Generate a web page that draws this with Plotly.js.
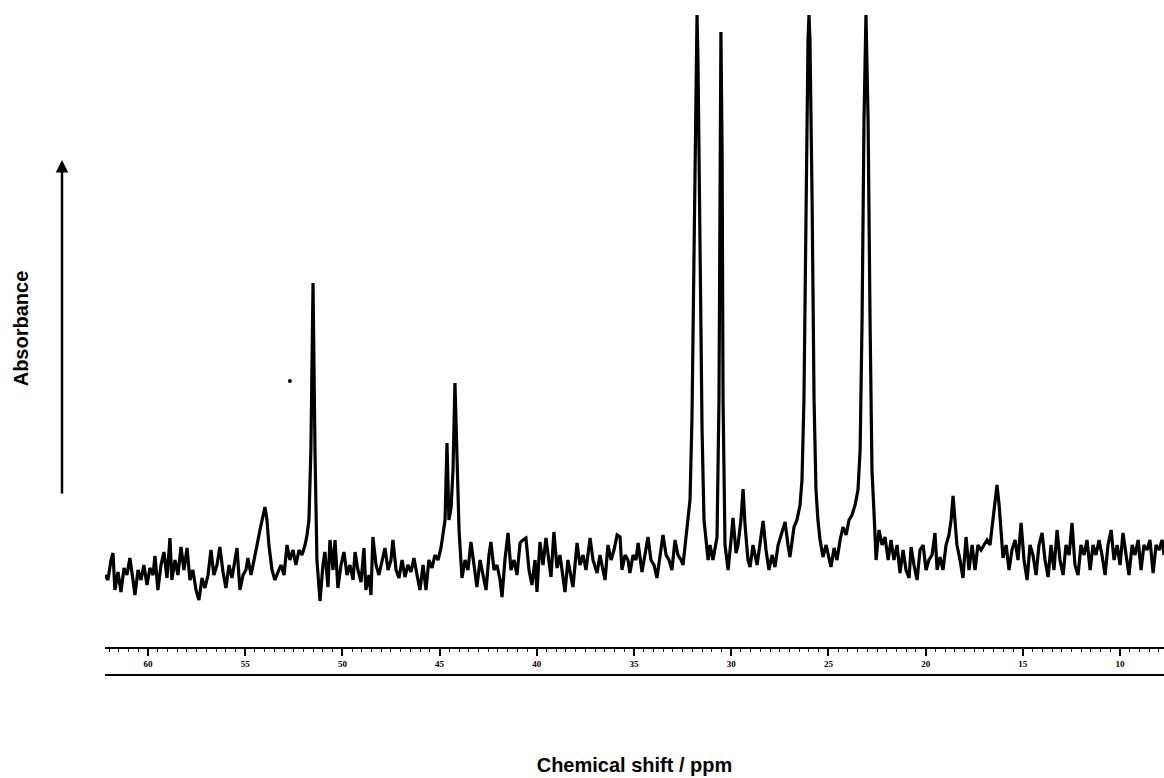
<!DOCTYPE html>
<html>
<head>
<meta charset="utf-8">
<script src="https://cdn.plot.ly/plotly-3.0.1.min.js"></script>
<style>html,body{margin:0;padding:0;background:#fff;}#chart{width:1164px;height:778px;}</style>
</head>
<body>
<div id="chart"></div>
<script>
// Chemical shift (ppm)
const shiftPpm = [
62.21,62.06,61.90,61.80,61.70,61.54,61.39,61.23,61.08,60.93,60.77,60.67,60.51,60.36,60.21,60.05,
59.90,59.74,59.64,59.49,59.33,59.18,59.02,58.87,58.77,58.61,58.46,58.30,58.15,57.99,57.84,57.69,
57.53,57.38,57.22,57.07,56.91,56.76,56.61,56.45,56.30,56.14,55.99,55.83,55.68,55.52,55.42,55.27,
55.11,54.96,54.86,54.70,54.55,54.39,54.24,54.14,53.98,53.88,53.78,53.62,53.47,53.31,53.16,53.00,
52.85,52.70,52.54,52.39,52.23,52.08,51.92,51.82,51.72,51.62,51.51,51.41,51.31,51.15,51.00,50.90,
50.74,50.64,50.48,50.38,50.23,50.07,49.92,49.76,49.61,49.45,49.35,49.20,49.04,48.89,48.79,48.63,
48.53,48.43,48.27,48.12,47.96,47.81,47.65,47.50,47.40,47.24,47.09,46.93,46.78,46.63,46.47,46.32,
46.16,46.01,45.85,45.70,45.55,45.39,45.24,45.08,44.93,44.83,44.72,44.62,44.52,44.41,44.31,44.21,
44.11,44.00,43.85,43.69,43.54,43.39,43.23,43.08,42.92,42.77,42.61,42.46,42.36,42.20,42.05,41.89,
41.79,41.64,41.48,41.33,41.17,41.02,40.86,40.71,40.56,40.40,40.25,40.09,39.99,39.84,39.68,39.53,
39.37,39.27,39.12,38.96,38.81,38.65,38.55,38.40,38.24,38.14,37.93,37.78,37.62,37.47,37.26,37.11,
36.90,36.75,36.65,36.49,36.34,36.18,36.03,35.87,35.72,35.62,35.46,35.31,35.21,35.05,34.90,34.79,
34.59,34.43,34.28,34.13,33.97,33.82,33.66,33.51,33.35,33.20,33.05,32.89,32.74,32.58,32.48,32.38,
32.22,32.12,32.02,31.91,31.81,31.76,31.71,31.61,31.50,31.40,31.30,31.19,31.09,30.94,30.83,30.73,
30.63,30.58,30.53,30.47,30.42,30.32,30.16,30.01,29.91,29.75,29.65,29.50,29.39,29.29,29.14,29.03,
28.88,28.67,28.52,28.36,28.21,28.06,27.90,27.75,27.59,27.44,27.23,27.08,26.98,26.77,26.62,26.46,
26.36,26.26,26.15,26.05,26.00,25.95,25.84,25.74,25.64,25.54,25.43,25.28,25.12,24.97,24.87,24.71,
24.56,24.40,24.25,24.09,23.94,23.79,23.63,23.48,23.37,23.27,23.17,23.07,22.96,22.86,22.76,22.65,
22.55,22.40,22.24,22.09,21.93,21.78,21.63,21.47,21.32,21.16,21.01,20.85,20.75,20.60,20.44,20.29,
20.13,19.98,19.83,19.67,19.52,19.41,19.26,19.11,18.95,18.80,18.69,18.59,18.49,18.39,18.23,18.08,
17.92,17.77,17.61,17.46,17.31,17.15,17.00,16.84,16.69,16.53,16.43,16.33,16.22,16.12,16.02,15.86,
15.71,15.56,15.40,15.25,15.09,14.94,14.78,14.63,14.48,14.32,14.17,14.01,13.86,13.70,13.55,13.40,
13.24,13.09,12.93,12.78,12.62,12.47,12.32,12.16,12.01,11.85,11.70,11.54,11.39,11.24,11.08,10.93,
10.77,10.62,10.46,10.31,10.15,10.00,9.85,9.69,9.54,9.38,9.23,9.07,8.92,8.77,8.61,8.46,
8.30,8.15,7.99,7.84,7.74
];
// Absorbance (arbitrary units)
const absorbance = [
-5,-10,10,17,-20,-2,-22,2,-5,12,-10,-25,0,-10,5,-15,
2,-5,14,-20,5,18,-8,32,-10,10,-5,23,0,22,-10,0,
-20,-30,-8,-18,-5,20,-5,5,23,-2,-18,5,-8,10,22,-20,
-5,0,12,-5,8,25,40,48,63,50,25,0,-10,-2,5,-5,
25,10,20,5,20,15,25,35,50,120,287,120,10,-31,5,18,
-17,30,0,30,-18,5,18,-5,5,-10,18,0,-12,22,-20,-5,
-25,33,5,-5,10,22,0,10,30,0,-8,10,-7,5,-2,12,
-5,-20,5,-20,10,2,15,10,22,35,50,127,50,62,100,187,
100,40,-8,10,0,28,5,-17,10,-5,-20,15,28,0,5,-10,
-27,10,37,0,10,-5,27,30,32,0,-15,10,-22,28,5,32,
5,-7,38,2,15,-5,-22,10,-5,-17,27,5,15,0,32,10,
-3,15,5,-10,25,10,20,35,33,0,15,10,-3,15,10,27,
-2,15,33,10,5,-8,15,35,15,10,0,30,15,10,5,23,
47,70,150,320,510,555,510,320,140,50,30,10,25,10,22,33,
170,420,538,420,170,25,0,30,52,17,25,50,81,45,10,3,
25,5,25,49,20,0,15,3,25,35,48,25,13,43,50,65,
90,170,370,530,555,530,370,170,80,50,30,13,25,10,3,22,
10,30,43,35,50,55,65,80,120,250,450,555,450,250,100,55,
10,40,25,33,10,30,10,25,-3,20,0,-8,23,5,-10,20,
25,0,10,15,37,0,13,0,25,35,50,74,50,25,10,-8,
33,0,25,0,25,20,25,30,25,50,70,85,65,40,12,25,
0,20,30,10,47,10,-10,25,15,-5,25,37,10,-7,25,0,
40,10,-5,25,15,47,5,-5,25,15,30,0,25,15,30,15,
-5,25,40,10,25,5,37,15,-5,25,15,30,0,25,20,30,
-3,25,20,30,15
];
// Isolated dot visible in the scan
const dotPpm = [52.70];
const dotAbs = [189];
const tickVals = [60, 55, 50, 45, 40, 35, 30, 25, 20, 15, 10];
const tickText = ['60', '55', '50', '45', '40', '35', '30', '25', '20', '15', '10'];

const traces = [
  {x: shiftPpm, y: absorbance, type: 'scatter', mode: 'lines',
   line: {color: '#000', width: 3.2}, hoverinfo: 'x+y', showlegend: false},
  {x: dotPpm, y: dotAbs, type: 'scatter', mode: 'markers',
   marker: {color: '#000', size: 4}, showlegend: false}
];

const layout = {
  width: 1164, height: 778,
  margin: {l: 105, r: 0, t: 10, b: 131},
  paper_bgcolor: '#fff', plot_bgcolor: '#fff',
  showlegend: false,
  xaxis: {
    range: [62.21, 7.74],
    showgrid: false, zeroline: false,
    showline: true, linecolor: '#000', linewidth: 2,
    ticks: 'outside', ticklen: 7, tickwidth: 2, tickcolor: '#000',
    tickvals: tickVals, ticktext: tickText,
    tickfont: {family: 'Liberation Serif', size: 9, color: '#000', weight: 'bold'},
    minor: {ticks: 'outside', dtick: 0.5, ticklen: 3, tickwidth: 1, tickcolor: '#000'},
    title: {text: 'Chemical shift / ppm', standoff: 90,
            font: {family: 'Liberation Sans', size: 20, color: '#000', weight: 'bold'}}
  },
  yaxis: {
    range: [-77, 560],
    showgrid: false, zeroline: false, showline: false,
    showticklabels: false, ticks: '',
    title: {text: 'Absorbance', standoff: 70,
            font: {family: 'Liberation Sans', size: 20, color: '#000', weight: 'bold'}}
  },
  shapes: [
    {type: 'line', xref: 'paper', yref: 'paper', x0: 0, x1: 1, y0: -0.044, y1: -0.044,
     line: {color: '#000', width: 2}}
  ],
  annotations: [
    {xref: 'paper', yref: 'paper', x: -0.0406, y: 0.7645, text: '',
     showarrow: true, axref: 'pixel', ayref: 'pixel', ax: 0, ay: 335,
     arrowhead: 2, arrowsize: 1.0, arrowwidth: 2.5, arrowcolor: '#000'}
  ]
};

Plotly.newPlot('chart', traces, layout, {displayModeBar: false, staticPlot: true});
</script>
</body>
</html>
